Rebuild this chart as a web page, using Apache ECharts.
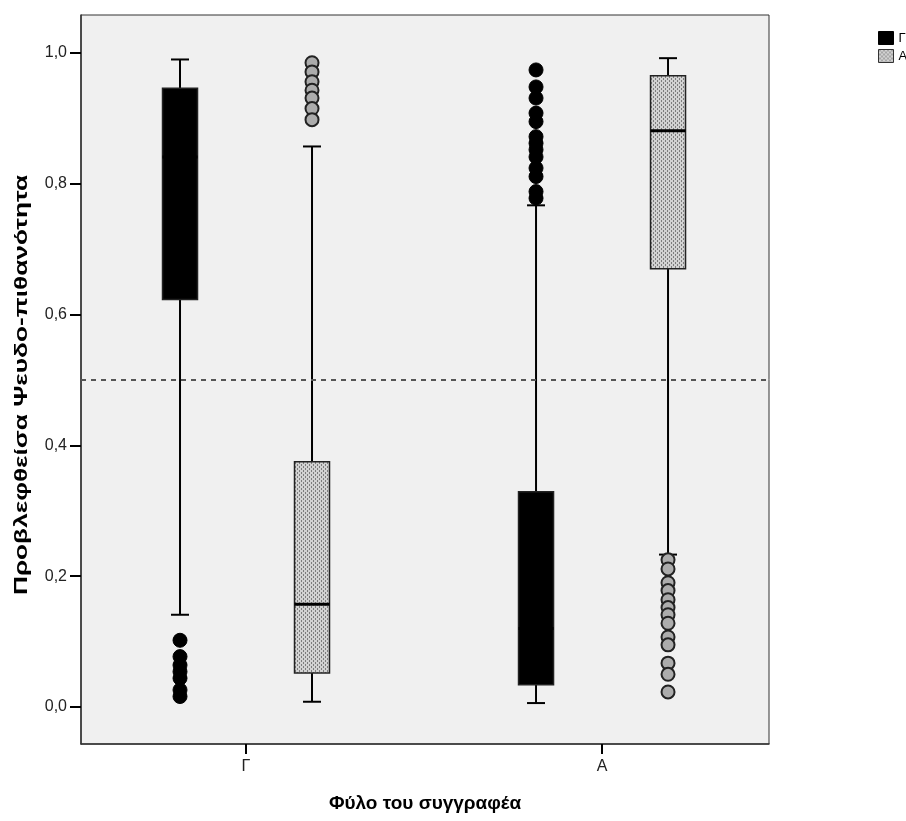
<!DOCTYPE html>
<html>
<head>
<meta charset="utf-8">
<script src="https://cdn.jsdelivr.net/npm/echarts@6/dist/echarts.min.js"></script>
<style>
html,body{margin:0;padding:0;background:#fff;}
#chart{width:906px;height:821px;}
</style>
</head>
<body>
<div id="chart"></div>
<script>
// ---- data ----
const categories = ['Γ', 'A'];
const seriesNames = ['Γ', 'A'];
const yTicks = [0, 0.2, 0.4, 0.6, 0.8, 1.0];
const xTitle = 'Φύλο του συγγραφέα';
const yTitle = 'Προβλεφθείσα Ψευδο-πιθανότητα';
// [categoryIndex, min, Q1, median, Q3, max]
const boxGamma = [
  [0, 0.141, 0.623, 0.841, 0.946, 0.990],
  [1, 0.006, 0.034, 0.120, 0.329, 0.767]
];
const boxAlpha = [
  [0, 0.008, 0.052, 0.157, 0.375, 0.857],
  [1, 0.233, 0.670, 0.881, 0.965, 0.992]
];
const outGammaCatG = [0.102, 0.077, 0.064, 0.054, 0.044, 0.026, 0.016];
const outGammaCatA = [0.974, 0.948, 0.931, 0.908, 0.895, 0.872, 0.862, 0.852, 0.841, 0.824, 0.811, 0.788, 0.778];
const outAlphaCatG = [0.985, 0.971, 0.956, 0.943, 0.931, 0.915, 0.898];
const outAlphaCatA = [0.225, 0.211, 0.190, 0.178, 0.164, 0.152, 0.141, 0.128, 0.107, 0.095, 0.067, 0.050, 0.023];
const cutoff = 0.5;

// ---- pattern ----
function makePattern() {
  const c = document.createElement('canvas');
  c.width = 4; c.height = 4;
  const g = c.getContext('2d');
  g.fillStyle = '#d2d2d2';
  g.fillRect(0, 0, 4, 4);
  g.fillStyle = '#7c7c7c';
  g.fillRect(1, 0, 1, 2);
  g.fillRect(3, 2, 1, 2);
  return { image: c, repeat: 'repeat' };
}
const pattern = makePattern();

const BOX_OFF = 66, HALF_W = 17.5, CAP_HALF = 9;

function makeRender(offset, fill, stroke, medColor) {
  return function (params, api) {
    const x = api.value(0);
    const p = k => api.coord([x, api.value(k)]);
    const pMin = p(1), pQ1 = p(2), pMed = p(3), pQ3 = p(4), pMax = p(5);
    const cx = pMin[0] + offset;
    const ls = { stroke: '#000', lineWidth: 2 };
    return {
      type: 'group',
      children: [
        { type: 'line', shape: { x1: cx, y1: pMax[1], x2: cx, y2: pQ3[1] }, style: ls },
        { type: 'line', shape: { x1: cx, y1: pQ1[1], x2: cx, y2: pMin[1] }, style: ls },
        { type: 'line', shape: { x1: cx - CAP_HALF, y1: pMax[1], x2: cx + CAP_HALF, y2: pMax[1] }, style: ls },
        { type: 'line', shape: { x1: cx - CAP_HALF, y1: pMin[1], x2: cx + CAP_HALF, y2: pMin[1] }, style: ls },
        { type: 'rect', shape: { x: cx - HALF_W, y: pQ3[1], width: HALF_W * 2, height: pQ1[1] - pQ3[1] },
          style: { fill: fill, stroke: stroke, lineWidth: 1.5 } },
        { type: 'line', shape: { x1: cx - HALF_W, y1: pMed[1], x2: cx + HALF_W, y2: pMed[1] },
          style: { stroke: medColor, lineWidth: 3 } }
      ]
    };
  };
}

function pts(cat, arr) { return arr.map(v => [cat, v]); }

const chart = echarts.init(document.getElementById('chart'), null, { renderer: 'canvas' });
const font = 'Liberation Sans, Arial, sans-serif';

chart.setOption({
  animation: false,
  backgroundColor: '#ffffff',
  textStyle: { fontFamily: font },
  grid: {
    left: 81, top: 15, right: 137, bottom: 77,
    show: true, backgroundColor: '#f0f0f0', borderColor: '#333', borderWidth: 1
  },
  graphic: [{
    type: 'text', x: 22, y: 385, rotation: Math.PI / 2, scaleX: 1.38, silent: true,
    style: { text: yTitle, font: 'bold 19px ' + font, fill: '#000', align: 'center', verticalAlign: 'middle' }
  }],
  legend: {
    orient: 'vertical', left: 873, top: 26, itemWidth: 15, itemHeight: 13, itemGap: 4,
    textStyle: { fontSize: 13, color: '#000', fontFamily: font },
    data: [
      { name: seriesNames[0], icon: 'rect', itemStyle: { color: '#000', borderColor: '#000', borderWidth: 1 } },
      { name: seriesNames[1], icon: 'rect', itemStyle: { color: pattern, borderColor: '#333', borderWidth: 1 } }
    ]
  },
  xAxis: {
    type: 'value', min: -0.4635, max: 1.469,
    name: xTitle, nameLocation: 'middle', nameGap: 50,
    nameTextStyle: { fontSize: 19, fontWeight: 'bold', color: '#000', fontFamily: font },
    axisLine: { show: true, onZero: false, lineStyle: { color: '#333', width: 1.5 } },
    axisTick: { show: true, length: 10, lineStyle: { color: '#000', width: 2 }, customValues: [0, 1] },
    axisLabel: { customValues: [0, 1], formatter: v => categories[Math.round(v)], fontSize: 16, color: '#222', margin: 15, fontFamily: font },
    splitLine: { show: false }
  },
  yAxis: {
    type: 'value', min: -0.0566, max: 1.058,
    axisLine: { show: true, onZero: false, lineStyle: { color: '#333', width: 1.5 } },
    axisTick: { show: true, length: 11, lineStyle: { color: '#000', width: 2 }, customValues: yTicks },
    axisLabel: { customValues: yTicks, formatter: v => v.toFixed(1).replace('.', ','), fontSize: 16, color: '#222', margin: 14, fontFamily: font },
    splitLine: { show: false }
  },
  series: [
    {
      name: seriesNames[0], type: 'custom', data: boxGamma, z: 3,
      encode: { x: 0, y: [1, 2, 3, 4, 5] },
      itemStyle: { color: '#000' },
      renderItem: makeRender(-BOX_OFF, '#000', '#222', '#000')
    },
    {
      name: seriesNames[1], type: 'custom', data: boxAlpha, z: 3,
      encode: { x: 0, y: [1, 2, 3, 4, 5] },
      itemStyle: { color: '#c8c8c8' },
      renderItem: makeRender(BOX_OFF, pattern, '#222', '#000')
    },
    {
      name: seriesNames[0], type: 'scatter', z: 4,
      data: pts(0, outGammaCatG).concat(pts(1, outGammaCatA)),
      symbol: 'circle', symbolSize: 14, symbolOffset: [-BOX_OFF, 0],
      itemStyle: { color: '#000', borderColor: '#000', borderWidth: 1, opacity: 1 },
      markLine: {
        silent: true, symbol: 'none', label: { show: false },
        lineStyle: { type: [5, 5], color: '#555', width: 2 },
        data: [{ yAxis: cutoff }]
      }
    },
    {
      name: seriesNames[1], type: 'scatter', z: 4,
      data: pts(0, outAlphaCatG).concat(pts(1, outAlphaCatA)),
      symbol: 'circle', symbolSize: 13, symbolOffset: [BOX_OFF, 0],
      itemStyle: { color: '#acacac', borderColor: '#222', borderWidth: 2, opacity: 1 }
    }
  ]
});
</script>
</body>
</html>
